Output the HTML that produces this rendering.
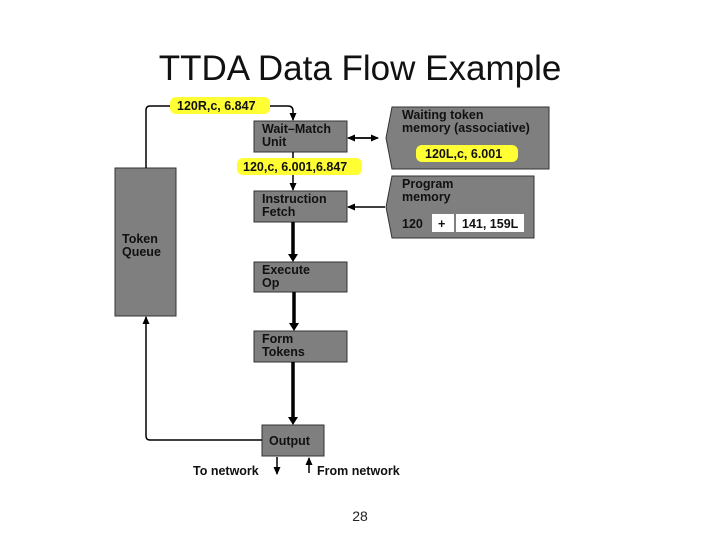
<!DOCTYPE html>
<html><head><style>
body{margin:0;width:720px;height:540px;background:#fff;overflow:hidden;font-family:"Liberation Sans",sans-serif}
</style></head><body>
<svg width="720" height="540" xmlns="http://www.w3.org/2000/svg" font-family="Liberation Sans, sans-serif">
<defs><marker id="a" markerWidth="8" markerHeight="8" refX="7" refY="4" orient="auto" markerUnits="userSpaceOnUse"><path d="M0,0.5 L8,4 L0,7.5Z" fill="#000"/></marker></defs>
<text x="360" y="80" font-size="35" text-anchor="middle" fill="#111">TTDA Data Flow Example</text>
<g fill="#7f7f7f" stroke="#333" stroke-width="1">
<rect x="115" y="168" width="61" height="148"/>
<rect x="254" y="121" width="93" height="31"/>
<rect x="254" y="191" width="93" height="31"/>
<rect x="254" y="262" width="93" height="30"/>
<rect x="254" y="331" width="93" height="31"/>
<rect x="262" y="425" width="62" height="31"/>
<polygon points="392,107 549,107 549,169 392,169 386,138"/>
<polygon points="392,176 534,176 534,238 392,238 386,207"/>
</g>
<g stroke="#000" stroke-width="1.5" fill="none">
<path d="M146,168 V110 Q146,106 150,106 H288 Q293,106 293,111 V120" marker-end="url(#a)"/>
<line x1="293" y1="152" x2="293" y2="190" marker-end="url(#a)"/>
<line x1="385" y1="207" x2="348" y2="207" marker-end="url(#a)"/>
<line x1="355" y1="138" x2="378" y2="138" marker-end="url(#a)"/>
<line x1="375" y1="138" x2="348" y2="138" marker-end="url(#a)"/>
<path d="M262,440 H150 Q146,440 146,436 V317" marker-end="url(#a)"/>
<line x1="277" y1="457" x2="277" y2="474" marker-end="url(#a)"/>
<line x1="309" y1="473" x2="309" y2="458" marker-end="url(#a)"/>
</g>
<g stroke="#000" stroke-width="3.5">
<line x1="293" y1="222" x2="293" y2="255"/>
<line x1="294" y1="292" x2="294" y2="324"/>
<line x1="293" y1="362" x2="293" y2="418"/>
</g>
<g fill="#000"><path d="M288,254 L298,254 L293,262Z"/><path d="M289,323 L299,323 L294,331Z"/><path d="M288,417 L298,417 L293,425Z"/></g>
<g fill="#ffff33">
<rect x="170" y="97" width="100" height="17" rx="6"/>
<rect x="237" y="158" width="125" height="17" rx="6"/>
<rect x="416" y="145" width="102" height="17" rx="6"/>
</g>
<rect x="432" y="214" width="22" height="18" fill="#fff"/>
<rect x="456" y="214" width="68" height="18" fill="#fff"/>
<g font-size="12.5" font-weight="bold" fill="#111">
<text x="177" y="110">120R,c, 6.847</text>
<text x="243" y="171">120,c, 6.001,6.847</text>
<text x="425" y="158">120L,c, 6.001</text>
<text x="262" y="133">Wait–Match</text><text x="262" y="146">Unit</text>
<text x="262" y="203">Instruction</text><text x="262" y="216">Fetch</text>
<text x="262" y="274">Execute</text><text x="262" y="287">Op</text>
<text x="262" y="343">Form</text><text x="262" y="356">Tokens</text>
<text x="269" y="445">Output</text>
<text x="122" y="243">Token</text><text x="122" y="256">Queue</text>
<text x="402" y="119">Waiting token</text><text x="402" y="132">memory (associative)</text>
<text x="402" y="188">Program</text><text x="402" y="201">memory</text>
<text x="402" y="228">120</text>
<text x="438" y="228">+</text>
<text x="462" y="228">141, 159L</text>
<text x="193" y="475">To network</text>
<text x="317" y="475">From network</text>
</g>
<text x="360" y="521" font-size="14" text-anchor="middle" fill="#222">28</text>
</svg>
</body></html>
